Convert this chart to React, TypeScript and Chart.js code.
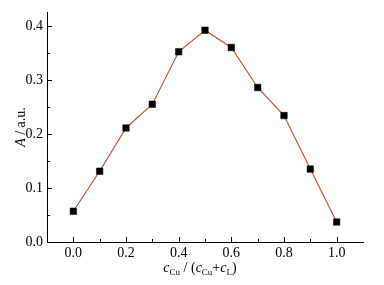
import React, { useEffect, useRef } from "react";
import { Chart, registerables } from "chart.js";

Chart.register(...registerables);

const xValues = [0.0, 0.1, 0.2, 0.3, 0.4, 0.5, 0.6, 0.7, 0.8, 0.9, 1.0];
const aValues = [0.057, 0.131, 0.211, 0.255, 0.352, 0.392, 0.36, 0.286, 0.234, 0.135, 0.037];
const xMajorTicks = [0.0, 0.2, 0.4, 0.6, 0.8, 1.0];
const xMinorTicks = [0.1, 0.3, 0.5, 0.7, 0.9];
const yMajorTicks = [0.0, 0.1, 0.2, 0.3, 0.4];
const yMinorTicks = [0.05, 0.15, 0.25, 0.35];

const FONT = "'Liberation Serif', 'DejaVu Serif', serif";

const inwardTicks = {
  id: "inwardTicks",
  afterDraw(chart: any) {
    const { ctx, chartArea, scales } = chart;
    const xs = scales.x;
    const ys = scales.y;
    ctx.save();
    ctx.strokeStyle = "#000";
    ctx.lineWidth = 1;
    ctx.beginPath();
    const bottom = chartArea.bottom;
    const left = chartArea.left;
    xMajorTicks.forEach((v) => {
      const px = Math.round(xs.getPixelForValue(v)) + 0.5;
      ctx.moveTo(px, bottom);
      ctx.lineTo(px, bottom - 5);
    });
    xMinorTicks.forEach((v) => {
      const px = Math.round(xs.getPixelForValue(v)) + 0.5;
      ctx.moveTo(px, bottom);
      ctx.lineTo(px, bottom - 3);
    });
    yMajorTicks.forEach((v) => {
      const py = Math.round(ys.getPixelForValue(v)) + 0.5;
      ctx.moveTo(left, py);
      ctx.lineTo(left + 5, py);
    });
    yMinorTicks.forEach((v) => {
      const py = Math.round(ys.getPixelForValue(v)) + 0.5;
      ctx.moveTo(left, py);
      ctx.lineTo(left + 3, py);
    });
    ctx.stroke();

    // Axis titles
    ctx.fillStyle = "#000";
    ctx.textBaseline = "alphabetic";
    const main = 14;
    const sub = 9;
    const parts: [string, string][] = [
      ["c", "i"],
      ["Cu", "s"],
      [" / (", "n"],
      ["c", "i"],
      ["Cu", "s"],
      ["+", "n"],
      ["c", "i"],
      ["L", "s"],
      [")", "n"],
    ];
    const fontFor = (k: string) =>
      k === "i" ? `italic ${main}px ${FONT}` : k === "s" ? `${sub}px ${FONT}` : `${main}px ${FONT}`;
    let total = 0;
    parts.forEach(([t, k]) => {
      ctx.font = fontFor(k);
      total += ctx.measureText(t).width;
    });
    let x = 200 - total / 2;
    const baseY = 272;
    parts.forEach(([t, k]) => {
      ctx.font = fontFor(k);
      ctx.fillText(t, x, k === "s" ? baseY + 3 : baseY);
      x += ctx.measureText(t).width;
    });

    // Y title: A / a.u.
    ctx.translate(25, 127);
    ctx.rotate(-Math.PI / 2);
    ctx.font = `italic ${main}px ${FONT}`;
    const wA = ctx.measureText("A").width;
    ctx.font = `${main}px ${FONT}`;
    const wR = ctx.measureText(" / a.u.").width;
    let yx = -(wA + wR) / 2;
    ctx.font = `italic ${main}px ${FONT}`;
    ctx.fillText("A", yx, 0);
    yx += wA;
    ctx.font = `${main}px ${FONT}`;
    ctx.fillText(" / a.u.", yx, 0);
    ctx.restore();
  },
};

export default function App() {
  const ref = useRef<HTMLCanvasElement>(null);
  useEffect(() => {
    if (!ref.current) return;
    const chart = new Chart(ref.current, {
      type: "line",
      data: {
        datasets: [
          {
            data: xValues.map((x, i) => ({ x, y: aValues[i] })),
            borderColor: "#d4512c",
            borderWidth: 1.2,
            pointStyle: "rect",
            pointRadius: 4.6,
            pointBackgroundColor: "#000",
            pointBorderColor: "#000",
            pointBorderWidth: 0.5,
            tension: 0,
          },
        ],
      },
      options: {
        animation: false,
        responsive: false,
        maintainAspectRatio: false,
        layout: { padding: { top: 2, right: 21, left: 0, bottom: 0 } },
        plugins: { legend: { display: false }, tooltip: { enabled: false } },
        scales: {
          x: {
            type: "linear",
            min: -0.1,
            max: 1.1,
            afterBuildTicks: (s: any) => {
              s.ticks = xMajorTicks.map((v) => ({ value: v }));
            },
            afterFit: (s: any) => {
              s.height = 43;
            },
            grid: { drawOnChartArea: false, drawTicks: false },
            border: { display: true, color: "#000", width: 1 },
            ticks: {
              color: "#000",
              padding: 3,
              maxRotation: 0,
              autoSkip: false,
              font: { family: FONT, size: 14 },
              callback: (v: any) => Number(v).toFixed(1),
            },
          },
          y: {
            type: "linear",
            min: 0,
            max: 0.425,
            afterBuildTicks: (s: any) => {
              s.ticks = yMajorTicks.map((v) => ({ value: v }));
            },
            afterFit: (s: any) => {
              s.width = 47;
            },
            grid: { drawOnChartArea: false, drawTicks: false },
            border: { display: true, color: "#000", width: 1 },
            ticks: {
              color: "#000",
              padding: 4,
              autoSkip: false,
              font: { family: FONT, size: 14 },
              callback: (v: any) => Number(v).toFixed(1),
            },
          },
        },
      },
      plugins: [inwardTicks],
    });
    return () => chart.destroy();
  }, []);
  return (
    <div style={{ position: "fixed", left: 0, top: 0, width: 384, height: 285, background: "#fff" }}>
      <canvas ref={ref} width={384} height={285} style={{ width: 384, height: 285 }} />
    </div>
  );
}
